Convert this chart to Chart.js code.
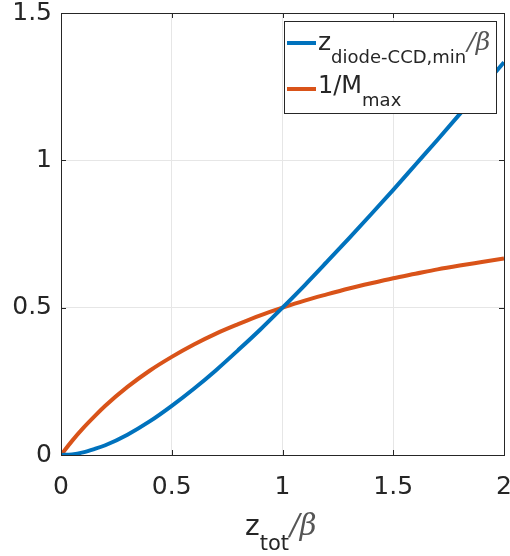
<!DOCTYPE html>
<html>
<head>
<meta charset="utf-8">
<script src="https://cdn.jsdelivr.net/npm/chart.js@4"></script>
<style>
  html, body { margin: 0; padding: 0; background: #fff; }
  #wrap { width: 510px; height: 556px; }
</style>
</head>
<body>
<div id="wrap"><canvas id="c" width="510" height="556"></canvas></div>
<script>
// data
const xValues = [0, 0.05, 0.1, 0.15, 0.2, 0.3, 0.4, 0.5, 0.6, 0.7, 0.8, 0.9, 1.0,
                 1.1, 1.2, 1.3, 1.4, 1.5, 1.6, 1.7, 1.8, 1.9, 2.0];
const zDiode = [0, 0.002, 0.009, 0.02, 0.033, 0.069, 0.114, 0.167, 0.225, 0.288, 0.356, 0.426, 0.5,
                0.576, 0.655, 0.735, 0.817, 0.9, 0.985, 1.07, 1.157, 1.245, 1.333];
const invM = [0, 0.048, 0.091, 0.13, 0.167, 0.231, 0.286, 0.333, 0.375, 0.412, 0.444, 0.474, 0.5,
              0.524, 0.545, 0.565, 0.583, 0.6, 0.615, 0.63, 0.643, 0.655, 0.667];
const xTicks = [0, 0.5, 1, 1.5, 2];
const yTicks = [0, 0.5, 1, 1.5];

const BLUE = '#0072BD';
const ORANGE = '#D95319';
const FONT = '"DejaVu Sans", "Liberation Sans", Arial, sans-serif';
const GREEK = '"DejaVu Serif", serif';

function pts(ys) {
  return xValues.map((x, i) => ({ x: x, y: ys[i] }));
}

// box, inward ticks, legend and x label (subscripts need manual drawing)
const matlabBits = {
  id: 'matlabBits',
  afterDraw(chart) {
    const ctx = chart.ctx;
    const a = chart.chartArea;
    const xs = chart.scales.x, ys = chart.scales.y;
    ctx.save();
    ctx.strokeStyle = '#262626';
    ctx.lineWidth = 1;
    ctx.strokeRect(Math.round(a.left) + 0.5, Math.round(a.top) + 0.5,
                   Math.round(a.right - a.left), Math.round(a.bottom - a.top));
    // inward tick marks
    ctx.beginPath();
    xTicks.forEach(v => {
      const px = Math.round(xs.getPixelForValue(v)) + 0.5;
      ctx.moveTo(px, a.bottom); ctx.lineTo(px, a.bottom - 5);
      ctx.moveTo(px, a.top); ctx.lineTo(px, a.top + 5);
    });
    yTicks.forEach(v => {
      const py = Math.round(ys.getPixelForValue(v)) + 0.5;
      ctx.moveTo(a.left, py); ctx.lineTo(a.left + 5, py);
      ctx.moveTo(a.right, py); ctx.lineTo(a.right - 5, py);
    });
    ctx.stroke();

    // legend
    const lx = 284, ly = 21, lw = 212, lh = 92;
    ctx.fillStyle = '#fff';
    ctx.fillRect(lx, ly, lw, lh);
    ctx.strokeStyle = '#262626';
    ctx.strokeRect(lx + 0.5, ly + 0.5, lw, lh);
    ctx.lineWidth = 4;
    ctx.strokeStyle = BLUE;
    ctx.beginPath(); ctx.moveTo(287, 43); ctx.lineTo(316, 43); ctx.stroke();
    ctx.strokeStyle = ORANGE;
    ctx.beginPath(); ctx.moveTo(287, 89); ctx.lineTo(316, 89); ctx.stroke();

    ctx.fillStyle = '#262626';
    ctx.textAlign = 'left';
    ctx.textBaseline = 'alphabetic';
    ctx.font = '25px ' + FONT;
    ctx.fillText('z', 318, 50);
    let w = ctx.measureText('z').width;
    ctx.font = '18px ' + FONT;
    ctx.fillText('diode-CCD,min', 318 + w, 63);
    w += ctx.measureText('diode-CCD,min').width;
    ctx.font = 'italic 25px ' + GREEK;
    ctx.fillStyle = '#555';
    ctx.fillText('/\u03B2', 318 + w + 1, 50);

    ctx.fillStyle = '#262626';
    ctx.font = '24px ' + FONT;
    ctx.fillText('1/M', 318, 93);
    w = ctx.measureText('1/M').width;
    ctx.font = '18px ' + FONT;
    ctx.fillText('max', 318 + w, 106);

    // x axis label
    ctx.font = '28px ' + FONT;
    const z1 = ctx.measureText('z').width;
    ctx.font = '21px ' + FONT;
    const t1 = ctx.measureText('tot').width;
    let sx = 245;
    ctx.font = '28px ' + FONT;
    ctx.fillText('z', sx, 535);
    ctx.font = '21px ' + FONT;
    ctx.fillText('tot', sx + z1, 550);
    ctx.font = 'italic 29px ' + GREEK;
    ctx.fillStyle = '#555';
    ctx.fillText('/\u03B2', sx + z1 + t1 + 1, 535);
    ctx.restore();
  }
};

const ctx = document.getElementById('c').getContext('2d');
new Chart(ctx, {
  type: 'line',
  data: {
    datasets: [
      { label: 'z_diode-CCD,min/β', data: pts(zDiode), borderColor: BLUE, borderWidth: 4,
        pointRadius: 0, cubicInterpolationMode: 'monotone', fill: false },
      { label: '1/M_max', data: pts(invM), borderColor: ORANGE, borderWidth: 4,
        pointRadius: 0, cubicInterpolationMode: 'monotone', fill: false }
    ]
  },
  options: {
    responsive: false,
    animation: false,
    devicePixelRatio: 1,
    layout: { padding: { top: 13, right: 6, left: 0, bottom: 0 } },
    plugins: { legend: { display: false }, tooltip: { enabled: false } },
    scales: {
      x: {
        type: 'linear', min: 0, max: 2,
        afterBuildTicks: s => { s.ticks = xTicks.map(v => ({ value: v })); },
        afterFit: s => { s.height = 101; s.paddingLeft = 0; s.paddingRight = 0; },
        grid: { color: '#e6e6e6', drawTicks: false },
        border: { display: true, color: '#262626' },
        ticks: { color: '#262626', font: { family: FONT, size: 25 }, padding: 17, maxRotation: 0,
                 callback: v => String(v) }
      },
      y: {
        type: 'linear', min: 0, max: 1.5,
        afterBuildTicks: s => { s.ticks = yTicks.map(v => ({ value: v })); },
        afterFit: s => { s.width = 61; s.paddingTop = 0; s.paddingBottom = 0; },
        grid: { color: '#e6e6e6', drawTicks: false },
        border: { display: true, color: '#262626' },
        ticks: { color: '#262626', font: { family: FONT, size: 25 }, padding: 9,
                 callback: v => String(v) }
      }
    }
  },
  plugins: [matlabBits]
});
</script>
</body>
</html>
